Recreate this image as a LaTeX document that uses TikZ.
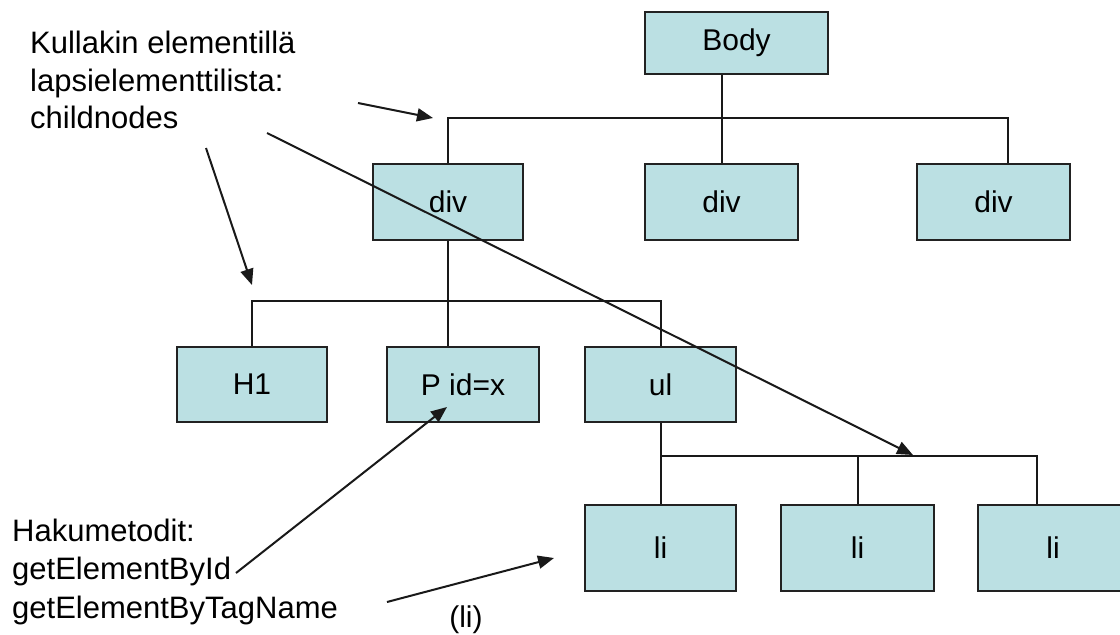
\documentclass[tikz,border=0pt]{standalone}
\usepackage{fontspec}
\setmainfont{Liberation Sans}
\usetikzlibrary{arrows.meta}
\definecolor{boxfill}{RGB}{187,224,227}
\definecolor{boxline}{RGB}{34,34,34}
\begin{document}
\begin{tikzpicture}[x=1pt,y=-1pt,
  box/.style={draw=boxline, fill=boxfill, line width=2pt, inner sep=0pt,
    font=\fontsize{30}{36}\selectfont},
  conn/.style={line width=2pt, draw=black!90},
  note/.style={anchor=base west, inner sep=0pt, font=\fontsize{31}{38}\selectfont},
  ptr/.style={line width=2pt, draw=black!90, -{Triangle[length=16pt,width=13pt]}}]
\useasboundingbox (0,0) rectangle (1120,635);
\clip (0,0) rectangle (1120,635);
\fill[white] (0,0) rectangle (1120,635);

% boxes
\node[box, minimum width=183pt, minimum height=62pt] (body) at (736.5,43) {Body};
\node[box, minimum width=150pt, minimum height=76pt] (divA) at (448,202) {div};
\node[box, minimum width=153pt, minimum height=76pt] (divB) at (721.5,202) {div};
\node[box, minimum width=153pt, minimum height=76pt] (divC) at (993.5,202) {div};
\node[box, minimum width=150pt, minimum height=75pt] (H1) at (252,384.5) {H1};
\node[box, minimum width=152pt, minimum height=75pt] (P) at (463,384.5) {P id=x};
\node[box, minimum width=151pt, minimum height=75pt] (ul) at (660.5,384.5) {ul};
\node[box, minimum width=151pt, minimum height=86pt] (li1) at (660.5,548) {li};
\node[box, minimum width=153pt, minimum height=86pt] (li2) at (857.5,548) {li};
\node[box, minimum width=150pt, minimum height=86pt] (li3) at (1053,548) {li};

% tree connectors
\coordinate (bus1) at (0,118);
\coordinate (bus2) at (0,301);
\coordinate (bus3) at (0,456);
\coordinate (divCc) at ([xshift=14.5pt]divC.north);
\coordinate (li3c) at ([xshift=-16pt]li3.north);
\draw[conn] (body.south -| divB.north) -- (divB.north);
\draw[conn] (divA.north) -- (divA.north |- bus1) -- (bus1 -| divCc) -- (divCc);
\draw[conn] (divA.south) -- (P.north -| divA.south);
\draw[conn] (H1.north) -- (H1.north |- bus2) -- (bus2 -| ul.north) -- (ul.north);
\draw[conn] (ul.south) -- (li1.north);
\draw[conn] (li1.north |- bus3) -- (bus3 -| li3c) -- (li3c);
\draw[conn] (li2.north) -- (li2.north |- bus3);

% texts
\node[note] (t1) at (30,53) {Kullakin elementillä};
\node[note] (t2) at (30,91) {lapsielementtilista:};
\node[note] (t3) at (30,128) {childnodes};
\node[note] (h1) at (12,541) {Hakumetodit:};
\node[note] (h2) at (12,579) {getElementById};
\node[note] (h3) at (12,618) {getElementByTagName};
\node[anchor=base, inner sep=0pt, font=\fontsize{30}{34}\selectfont] (lil) at (466,627) {(li)};

% pointer arrows
\coordinate (a1s) at (358,103); \coordinate (a1e) at (433,118);
\coordinate (a2s) at (206,148); \coordinate (a2e) at (252,285);
\coordinate (a3s) at (267,133); \coordinate (a3e) at (913,455);
\coordinate (a4s) at (236,573); \coordinate (a4e) at (447,407);
\coordinate (a5s) at (387,602); \coordinate (a5e) at (554,558);
\draw[ptr] (a1s) -- (a1e);
\draw[ptr] (a2s) -- (a2e);
\draw[ptr] (a3s) -- (a3e);
\draw[ptr] (a4s) -- (a4e);
\draw[ptr] (a5s) -- (a5e);
\end{tikzpicture}
\end{document}
